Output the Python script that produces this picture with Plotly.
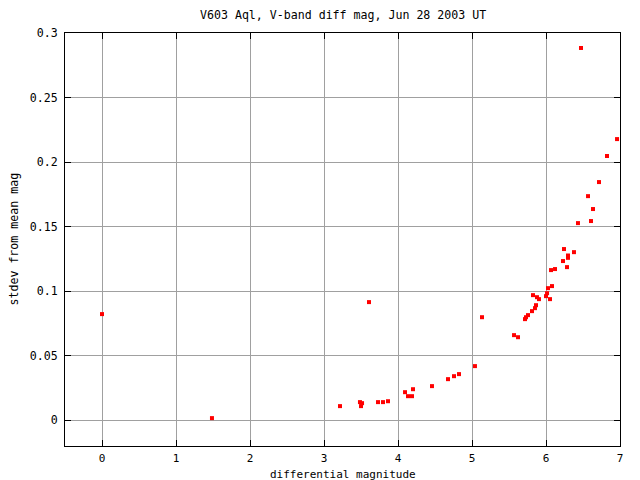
import plotly.graph_objects as go

title_text = "V603 Aql, V-band diff mag, Jun 28 2003 UT"
x_label = "differential magnitude"
y_label = "stdev from mean mag"

diff_mag = [0.0, 1.486, 3.216, 3.486, 3.5, 3.514, 3.608, 3.73, 3.797, 3.865,
            4.095, 4.135, 4.189, 4.203, 4.459, 4.676, 4.757, 4.824, 5.04, 5.135,
            5.568, 5.622, 5.716, 5.73, 5.757, 5.811, 5.824, 5.851, 5.865, 5.878,
            5.905, 6.0, 6.014, 6.027, 6.054, 6.068, 6.081, 6.122, 6.23, 6.243,
            6.284, 6.297, 6.297, 6.378, 6.432, 6.473, 6.568, 6.608, 6.635, 6.716,
            6.824, 6.96]
stdev = [0.0822, 0.0016, 0.0109, 0.0140, 0.0109, 0.0132, 0.0915, 0.0140, 0.0140, 0.0147,
         0.0217, 0.0186, 0.0186, 0.0240, 0.0264, 0.0318, 0.0341, 0.0357, 0.0419, 0.0798,
         0.0659, 0.0643, 0.0783, 0.0798, 0.0814, 0.0845, 0.0969, 0.0868, 0.0891, 0.0953,
         0.0938, 0.0961, 0.0984, 0.1023, 0.0938, 0.1163, 0.1039, 0.1171, 0.1233, 0.1326,
         0.1186, 0.1276, 0.1258, 0.1302, 0.1527, 0.2884, 0.1736, 0.1543, 0.1636, 0.1845,
         0.2047, 0.2178]

x_ticks = [0, 1, 2, 3, 4, 5, 6, 7]
y_ticks = [0, 0.05, 0.1, 0.15, 0.2, 0.25, 0.3]
y_tick_text = ["0", "0.05", "0.1", "0.15", "0.2", "0.25", "0.3"]

FONT = "DejaVu Sans Mono"
fsize = 11.6

fig = go.Figure()
fig.add_trace(go.Scatter(
    x=diff_mag, y=stdev, mode="markers",
    marker=dict(symbol="square", size=4, color="#ff0000", line=dict(width=0)),
    showlegend=False,
))

axis_common = dict(
    showline=True, linecolor="black", linewidth=1, mirror="ticks",
    ticks="inside", ticklen=6, tickcolor="black", tickwidth=1,
    showgrid=True, gridcolor="#a0a0a0", gridwidth=1,
    zeroline=False,
)

fig.update_xaxes(range=[-0.5, 7], tickvals=x_ticks, ticktext=[str(v) for v in x_ticks],
                 ticklabelstandoff=2, tickfont=dict(family=FONT, size=11, color="black"),
                 **axis_common)
fig.update_yaxes(range=[-0.02, 0.3], tickvals=y_ticks, ticktext=y_tick_text,
                 ticklabelstandoff=4, tickfont=dict(family=FONT, size=fsize, color="black"),
                 **axis_common)

fig.update_layout(
    width=640, height=480,
    margin=dict(l=57, r=28, t=25, b=42, pad=0),
    paper_bgcolor="white", plot_bgcolor="white",
    font=dict(family=FONT, size=fsize, color="black"),
    annotations=[
        dict(text=title_text, xref="paper", yref="paper", x=0.5, y=1, yshift=18,
             showarrow=False, xanchor="center", yanchor="middle",
             font=dict(family=FONT, size=fsize)),
        dict(text=x_label, xref="paper", yref="paper", x=0.5, y=0, yshift=-28,
             showarrow=False, xanchor="center", yanchor="middle",
             font=dict(family=FONT, size=11)),
        dict(text=y_label, xref="paper", yref="paper", x=0, y=0.5, xshift=-52,
             showarrow=False, xanchor="center", yanchor="middle", textangle=-90,
             font=dict(family=FONT, size=fsize)),
    ],
)

fig.write_html("out.html")
